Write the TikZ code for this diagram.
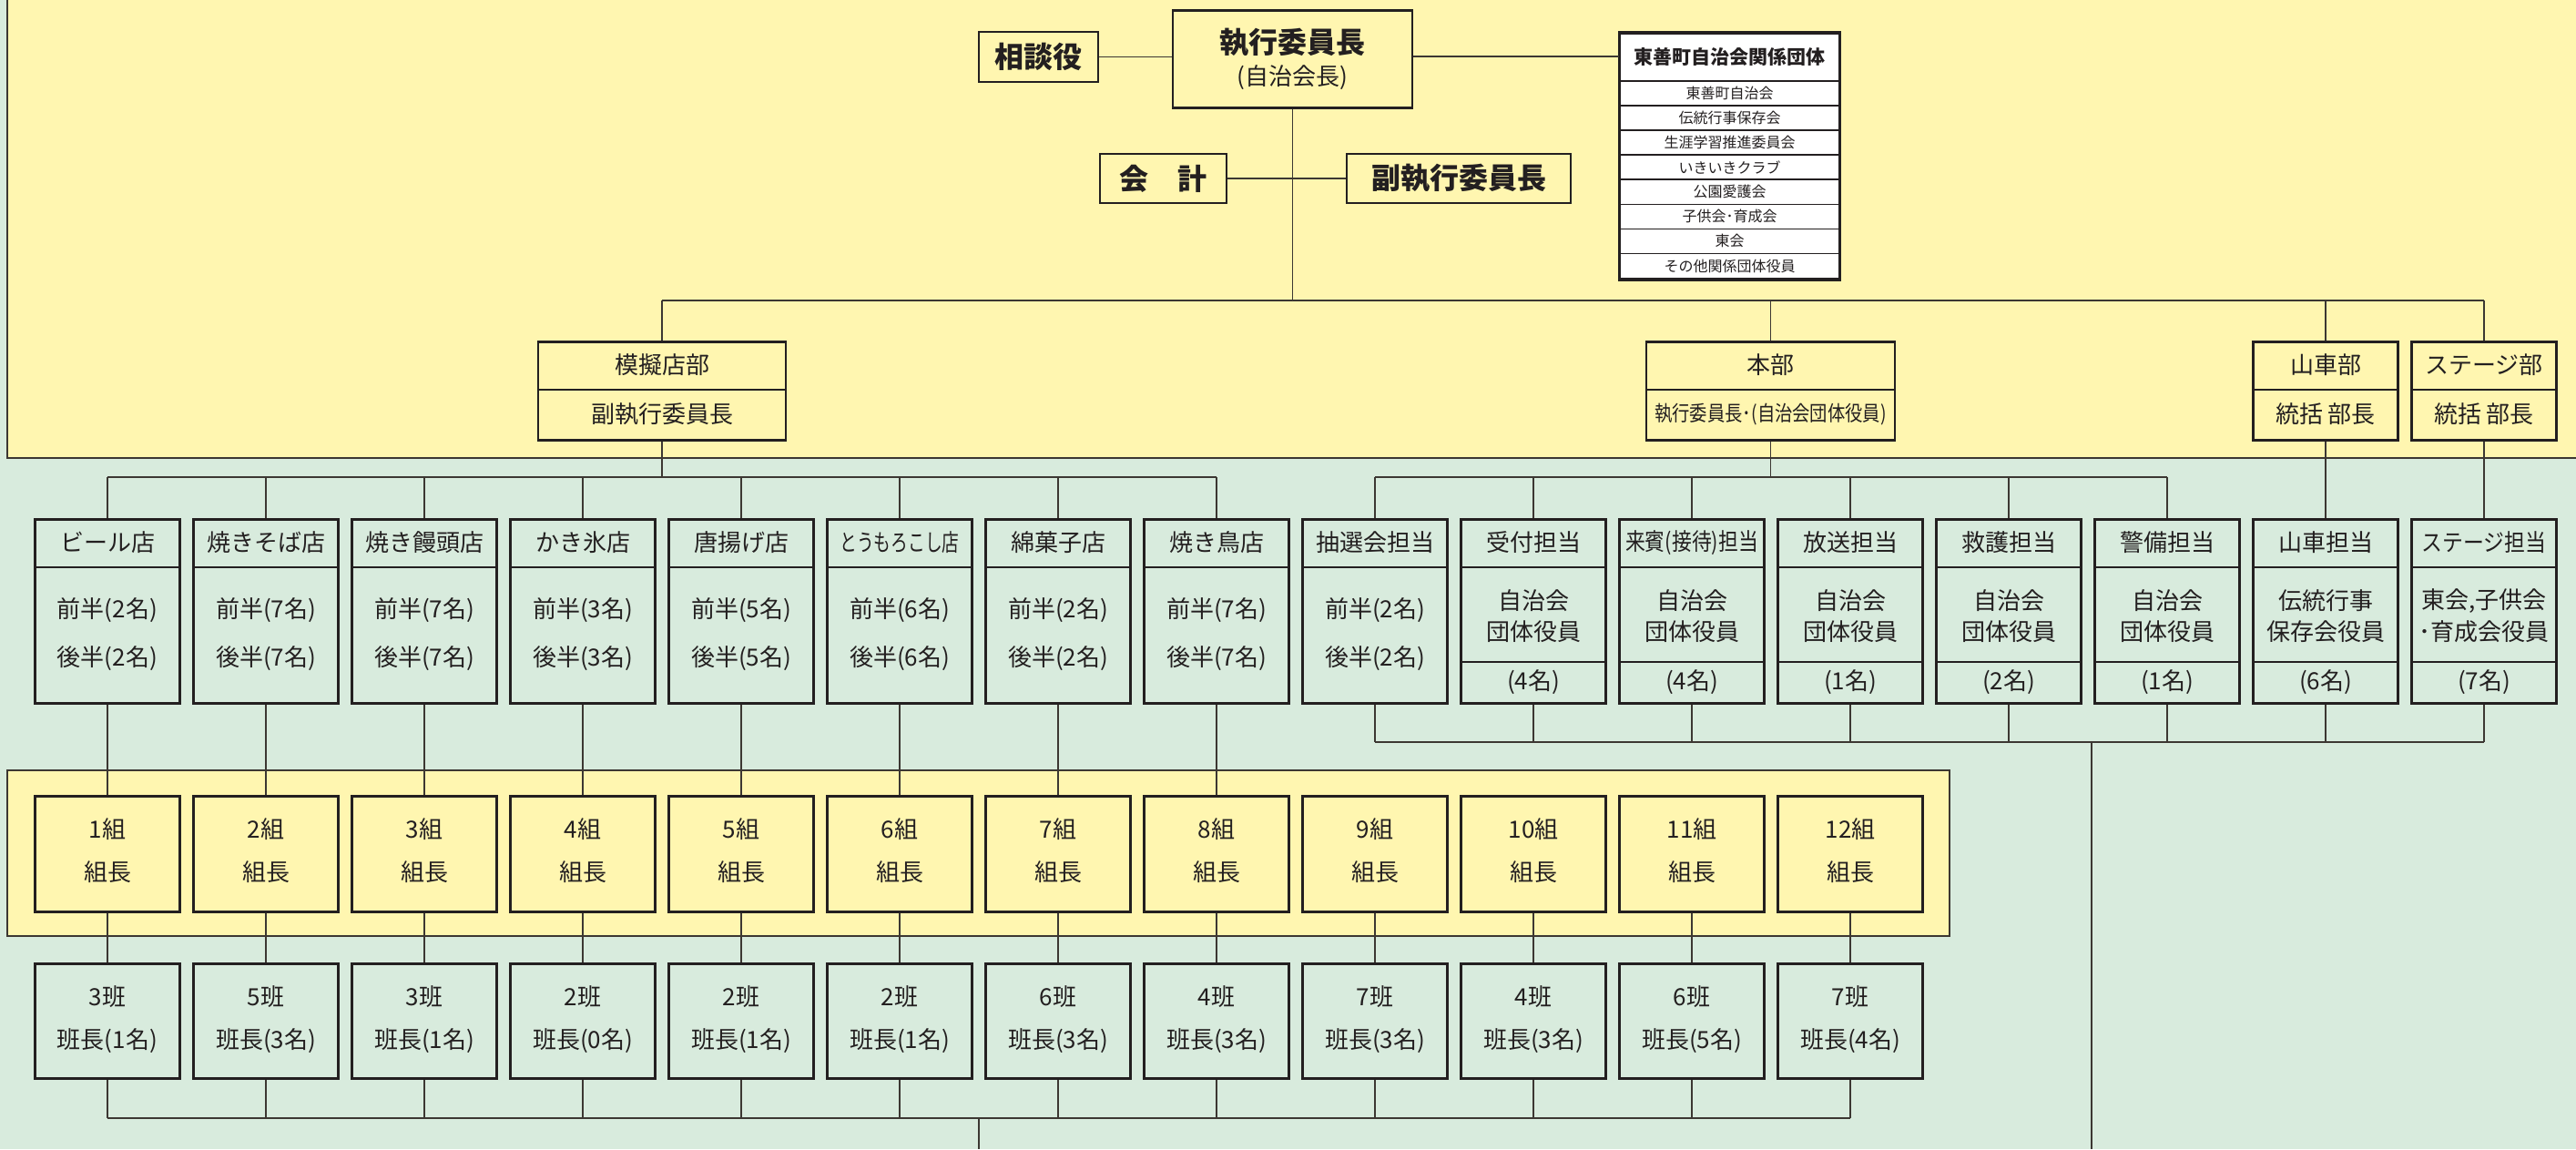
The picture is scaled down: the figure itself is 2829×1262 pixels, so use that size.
\documentclass[tikz,border=0pt]{standalone}
\usepackage{fontspec}
\setmainfont{Noto Sans CJK JP}
\usetikzlibrary{calc}
\definecolor{yel}{RGB}{255,246,176}
\definecolor{grn}{RGB}{216,235,221}
\definecolor{boxc}{RGB}{35,31,32}
\definecolor{linec}{RGB}{60,55,50}
\definecolor{txtc}{RGB}{35,31,32}
\tikzset{
  box/.style={draw=boxc, line width=2.6pt, inner sep=0pt, anchor=north},
  conn/.style={draw=linec, line width=1.4pt},
  divl/.style={draw=boxc, line width=1.5pt},
  bandl/.style={draw=linec, line width=1.4pt},
  tx/.style={inner sep=0pt, text=txtc, font=\fontsize{26}{30}\selectfont},
  tb/.style={inner sep=0pt, text=txtc, font=\fontsize{32}{36}\selectfont\bfseries},
}
\begin{document}
\begin{tikzpicture}[x=1pt,y=-1pt]
\useasboundingbox (0,0) rectangle (2829,1262);
% backgrounds
\fill[grn] (0,0) rectangle (2829,1262);
\fill[yel] (8,-10) rectangle (2840,503);
\draw[bandl] (8,-10) -- (8,503) -- (2840,503);
\filldraw[fill=yel, bandl] (8,846) rectangle (2141,1028);

% ---------- top level ----------
\node[box, fill=yel, minimum width=131pt, minimum height=55pt, anchor=center, tb] (sodan) at (1140.5,62.5) {相談役};
\node[box, fill=yel, minimum width=263pt, minimum height=107pt] (exec) at (1419.5,10) {};
\node[tb] (exec-t) at (1419.5,47) {執行委員長};
\node[tx] (exec-s) at (1419.5,85) {(自治会長)};
\node[box, fill=yel, minimum width=139pt, minimum height=54pt, anchor=center, tb] (kaikei) at (1277.5,196) {会　計};
\node[box, fill=yel, minimum width=246pt, minimum height=54pt, anchor=center, tb] (fuku) at (1602,196) {副執行委員長};

% related organisations
\node[box, fill=white, minimum width=241pt, minimum height=270pt] (org) at (1899.5,35) {};
\node[inner sep=0pt, text=txtc, font=\fontsize{21}{24}\selectfont\bfseries] (org-h) at (1899.5,62) {東善町自治会関係団体};
\foreach \k/\t in {0/東善町自治会,1/伝統行事保存会,2/生涯学習推進委員会,3/いきいきクラブ,4/公園愛護会,5/子供会･育成会,6/東会,7/その他関係団体役員}{
  \node[draw=boxc, line width=1.5pt, fill=white, minimum width=241pt, minimum height=27.1pt, anchor=north, inner sep=0pt, text=txtc, font=\fontsize{16}{18}\selectfont] (org\k) at (1899.5,{88+27.1*\k}) {\t};
}
\draw[boxc, line width=2.3pt] (org.north west) rectangle (org.south east);

\draw[conn] (sodan.east) -- (exec.west |- sodan.east);
\draw[conn] (exec.east |- org-h) -- (org.west |- org-h);
\draw[conn] (kaikei.east) -- (fuku.west);

% ---------- departments ----------
\node[box, fill=yel, minimum width=272pt, minimum height=108pt] (mogi) at (727,374) {};
\draw[divl] (591,428) -- (863,428);
\node[tx] (mogi-a) at (727,401) {模擬店部};
\node[tx] (mogi-b) at (727,455) {副執行委員長};

\node[box, fill=yel, minimum width=273pt, minimum height=108pt] (honbu) at (1944.5,374) {};
\draw[divl] (1808,428) -- (2081,428);
\node[tx] (honbu-a) at (1944.5,401) {本部};
\node[tx, font=\fontsize{23}{26}\selectfont] (honbu-b) at (1944.5,455) {\scalebox{0.84}[1]{執行委員長･(自治会団体役員)}};

\node[box, fill=yel, minimum width=159pt, minimum height=108pt] (dashi) at (2554,374) {};
\draw[divl] (2474.5,428) -- (2633.5,428);
\node[tx] (dashi-a) at (2554,401) {山車部};
\node[tx] (dashi-b) at (2554,455) {統括 部長};

\node[box, fill=yel, minimum width=159pt, minimum height=108pt] (stage) at (2728,374) {};
\draw[divl] (2648.5,428) -- (2807.5,428);
\node[tx] (stage-a) at (2728,401) {ステージ部};
\node[tx] (stage-b) at (2728,455) {統括 部長};

\coordinate (tj) at (1419.5,330);
\draw[conn] (exec.south) -- (tj);
\draw[conn] (mogi.north |- tj) -- (stage.north |- tj);
\foreach \n in {mogi,honbu,dashi,stage} \draw[conn] (\n.north |- tj) -- (\n.north);

% ---------- row 2: shops ----------
\foreach \i/\h/\cnt in {0/ビール店/2,1/焼きそば店/7,2/焼き饅頭店/7,3/かき氷店/3,4/唐揚げ店/5,5/{\scalebox{0.72}[1]{とうもろこし店}}/6,6/綿菓子店/2,7/焼き鳥店/7,8/抽選会担当/2}{
  \node[box, fill=grn, minimum width=159pt, minimum height=202pt] (r\i) at ({118+174*\i},569) {};
  \draw[divl] ({118+174*\i-79.5},623) -- ({118+174*\i+79.5},623);
  \node[tx] (r\i-h) at ({118+174*\i},596) {\h};
  \node[tx] (r\i-a) at ({118+174*\i},670) {前半(\cnt 名)};
  \node[tx] (r\i-b) at ({118+174*\i},723) {後半(\cnt 名)};
}
% ---------- row 2: duties ----------
\foreach \i/\h/\l/\m/\cnt in {9/受付担当/自治会/団体役員/4,10/{\scalebox{0.84}[1]{来賓(接待)担当}}/自治会/団体役員/4,11/放送担当/自治会/団体役員/1,12/救護担当/自治会/団体役員/2,13/警備担当/自治会/団体役員/1,14/山車担当/伝統行事/保存会役員/6,15/{\scalebox{0.88}[1]{ステージ担当}}/{東会,子供会}/･育成会役員/7}{
  \node[box, fill=grn, minimum width=159pt, minimum height=202pt] (r\i) at ({118+174*\i},569) {};
  \draw[divl] ({118+174*\i-79.5},623) -- ({118+174*\i+79.5},623);
  \draw[divl] ({118+174*\i-79.5},727) -- ({118+174*\i+79.5},727);
  \node[tx] (r\i-h) at ({118+174*\i},596) {\h};
  \node[tx] (r\i-a) at ({118+174*\i},660) {\l};
  \node[tx] (r\i-b) at ({118+174*\i},694) {\m};
  \node[tx] (r\i-c) at ({118+174*\i},749) {(\cnt 名)};
}

% connectors to row 2
\coordinate (mj) at (727,524);
\draw[conn] (mogi.south) -- (mj);
\draw[conn] (r0.north |- mj) -- (r7.north |- mj);
\foreach \i in {0,...,7} \draw[conn] (r\i.north |- mj) -- (r\i.north);
\coordinate (hj) at (1944.5,524);
\draw[conn] (honbu.south) -- (hj);
\draw[conn] (r8.north |- hj) -- (r13.north |- hj);
\foreach \i in {8,...,13} \draw[conn] (r\i.north |- hj) -- (r\i.north);
\draw[conn] (dashi.south) -- (r14.north);
\draw[conn] (stage.south) -- (r15.north);

\coordinate (bj) at (2297,815);
\coordinate (bend) at (2297,1262);
\draw[conn] (r8.south |- bj) -- (r15.south |- bj);
\foreach \i in {8,...,15} \draw[conn] (r\i.south) -- (r\i.south |- bj);
\draw[conn] (bj) -- (bend);

% ---------- groups ----------
\foreach \i/\k/\b/\cnt in {0/1/3/1,1/2/5/3,2/3/3/1,3/4/2/0,4/5/2/1,5/6/2/1,6/7/6/3,7/8/4/3,8/9/7/3,9/10/4/3,10/11/6/5,11/12/7/4}{
  \node[box, fill=yel, minimum width=159pt, minimum height=127pt] (k\i) at ({118+174*\i},873) {};
  \node[tx] (k\i-a) at ({118+174*\i},911) {\k 組};
  \node[tx] (k\i-b) at ({118+174*\i},958) {組長};
  \node[box, fill=grn, minimum width=159pt, minimum height=126pt] (h\i) at ({118+174*\i},1057) {};
  \node[tx] (h\i-a) at ({118+174*\i},1095) {\b 班};
  \node[tx] (h\i-b) at ({118+174*\i},1143) {班長(\cnt 名)};
  \draw[conn] (k\i.south) -- (h\i.north);
}
\foreach \i in {0,...,7} \draw[conn] (r\i.south) -- (k\i.north);

\coordinate (gj) at (1075,1228);
\coordinate (gend) at (1075,1262);
\draw[conn] (h0.south |- gj) -- (h11.south |- gj);
\foreach \i in {0,...,11} \draw[conn] (h\i.south) -- (h\i.south |- gj);
\draw[conn] (gj) -- (gend);
\end{tikzpicture}
\end{document}
